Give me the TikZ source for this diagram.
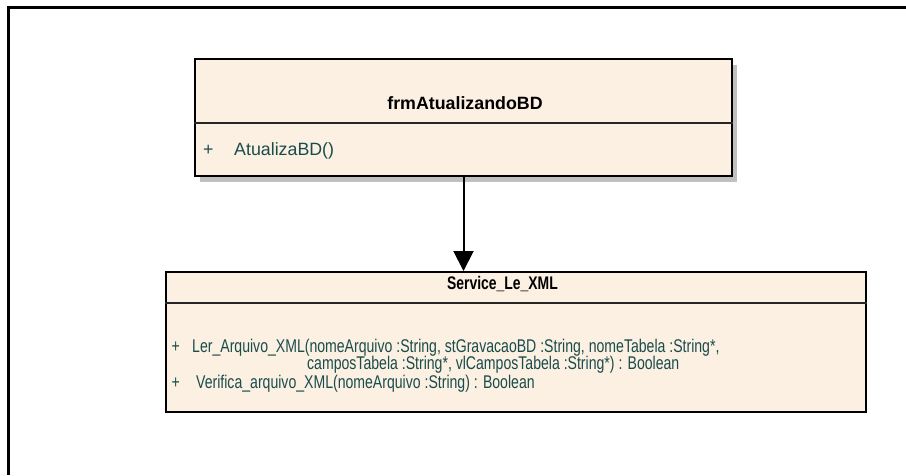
\documentclass[tikz,border=0pt]{standalone}
\usepackage{fontspec}
\usepackage{graphicx}
\setmainfont{Liberation Sans}
\usetikzlibrary{arrows.meta}

\definecolor{classfill}{RGB}{251,240,226}
\definecolor{shadowgray}{RGB}{192,192,192}
\definecolor{opteal}{RGB}{26,76,76}

% horizontally condensed text used inside the service class
\newcommand{\condensed}[1]{\scalebox{0.765}[1]{#1}}

\tikzset{
  classbox/.style={draw=black, line width=2pt, fill=classfill, inner sep=0pt},
  divider/.style={draw=black!85, line width=1.7pt},
  frameline/.style={draw=black, line width=3pt},
  boxshadow/.style={fill=shadowgray, draw=none},
  classtitle/.style={font=\fontsize{17.8}{18}\selectfont\bfseries, text=black, inner sep=0pt, anchor=base},
  operation/.style={font=\fontsize{17.8}{18}\selectfont, text=opteal, inner sep=0pt, anchor=base west},
  svctext/.style={font=\fontsize{18.4}{19}\selectfont, text=opteal, inner sep=0pt, anchor=base west},
  assoc/.style={draw=black, line width=2pt, -{Triangle[width=20pt,length=20pt]}}
}

\begin{document}
\begin{tikzpicture}[x=1pt, y=-1pt]
  \useasboundingbox (0,0) rectangle (906,475);

  % diagram frame (top and left edges)
  \draw[frameline] (906,7) -- (8,7) -- (8,475);

  % class frmAtualizandoBD with its drop shadow
  \fill[boxshadow] (200,65) rectangle (737,182);
  \node[classbox, minimum width=537pt, minimum height=117pt] (frm) at (463.5,117.5) {};
  \draw[divider] (frm.west |- 0,123) coordinate (frmdivl) -- (frm.east |- 0,123) coordinate (frmdivr);
  \node[classtitle] (frmname) at (465,109.5) {frmAtualizandoBD};
  \node[operation] (frmplus) at (203,155) {+};
  \node[operation] (frmop) at (234,155) {AtualizaBD()};

  % class Service_Le_XML
  \node[classbox, minimum width=700pt, minimum height=140pt] (svc) at (516,342) {};
  \draw[divider] (svc.west |- 0,303) coordinate (svcdivl) -- (svc.east |- 0,303) coordinate (svcdivr);
  \node[classtitle, font=\fontsize{18.2}{19}\selectfont\bfseries] (svcname) at (502.5,289.3) {\condensed{Service\_Le\_XML}};
  \node[svctext] (svcplusa) at (171.5,352) {\condensed{+}};
  \node[svctext] (svcopa) at (192,352) {\condensed{Ler\_Arquivo\_XML(nomeArquivo :String, stGravacaoBD :String, nomeTabela :String*,}};
  \node[svctext] (svcopacont) at (307,369.3) {\condensed{camposTabela :String*, vlCamposTabela :String*) : Boolean}};
  \node[svctext] (svcplusb) at (171.5,388) {\condensed{+}};
  \node[svctext] (svcopb) at (196,388) {\condensed{Verifica\_arquivo\_XML(nomeArquivo :String) : Boolean}};

  % association arrow
  \draw[assoc] (frm.south) -- (frm.south |- svc.north);
\end{tikzpicture}
\end{document}
